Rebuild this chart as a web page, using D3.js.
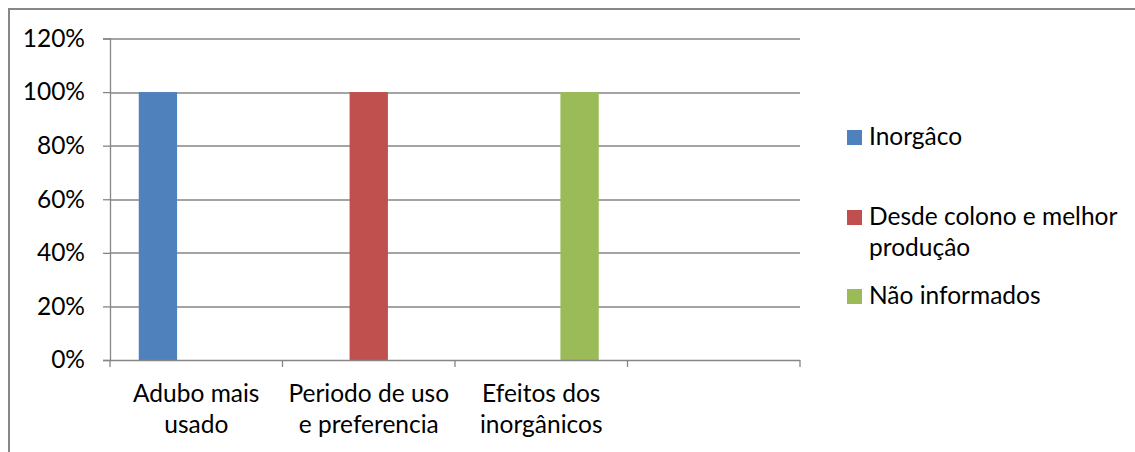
<!DOCTYPE html>
<html>
<head>
<meta charset="utf-8">
<style>
  body { margin: 0; background: #fff; }
  svg text { font-family: Lato, "Liberation Sans", sans-serif; fill: #000; }
</style>
</head>
<body>
<div id="chart"></div>
<script src="https://d3js.org/d3.v7.min.js"></script>
<script>
// data
var categories = ["Adubo mais\nusado", "Periodo de uso\ne preferencia", "Efeitos dos\ninorgânicos", ""];
var seriesNames = ["Inorgâco", "Desde colono e melhor\nproduçâo", "Não informados"];
var inorgaco = [1, null, null, null];
var desdeColono = [null, 1, null, null];
var naoInformados = [null, null, 1, null];
var yTicks = [0, 0.2, 0.4, 0.6, 0.8, 1.0, 1.2];
var colors = ["#4F81BD", "#C0504D", "#9BBB59"];

var seriesValues = [inorgaco, desdeColono, naoInformados];

var W = 1135, H = 452;
var margin = {top: 38.5, right: 335, bottom: 92, left: 110};
var width = W - margin.left - margin.right;   // 690
var height = H - margin.top - margin.bottom;  // ~321.5
var fsize = 24.5;
var gridColor = "#868686";

var svg = d3.select("#chart").append("svg")
    .attr("width", W)
    .attr("height", H);

// outer chart border (runs past the right and bottom edges)
svg.append("rect")
    .attr("x", 9).attr("y", 9)
    .attr("width", W + 20).attr("height", H + 20)
    .attr("fill", "none")
    .attr("stroke", "#878787")
    .attr("stroke-width", 2);

var g = svg.append("g")
    .attr("transform", "translate(" + margin.left + "," + margin.top + ")");

var x0 = d3.scaleBand()
    .domain(d3.range(categories.length))
    .range([0, width])
    .paddingInner(0).paddingOuter(0);

// excel-like gap width 150%: 3 bars + 1.5 bar widths of gap
var bw = x0.bandwidth() / 4.5;
var x1 = d3.scaleBand()
    .domain(d3.range(seriesNames.length))
    .range([bw * 0.75, bw * 3.75]);

var y = d3.scaleLinear()
    .domain([0, 1.2])
    .range([height, 0]);

// gridlines
g.append("g")
  .selectAll("line")
  .data(yTicks.slice(1))
  .enter().append("line")
    .attr("x1", 0).attr("x2", width)
    .attr("y1", function(d) { return Math.round(y(d)) + 0.5; })
    .attr("y2", function(d) { return Math.round(y(d)) + 0.5; })
    .attr("stroke", gridColor)
    .attr("stroke-width", 1.3);

// bars
var rows = [];
seriesValues.forEach(function(vals, s) {
  vals.forEach(function(v, c) {
    if (v != null) rows.push({s: s, c: c, v: v});
  });
});

g.append("g")
  .selectAll("rect")
  .data(rows)
  .enter().append("rect")
    .attr("x", function(d) { return x0(d.c) + x1(d.s); })
    .attr("y", function(d) { return y(d.v); })
    .attr("width", x1.bandwidth())
    .attr("height", function(d) { return y(0) - y(d.v); })
    .attr("fill", function(d) { return colors[d.s]; });

// y axis
var yAxis = g.append("g")
    .call(d3.axisLeft(y).tickValues(yTicks).tickFormat(d3.format(".0%")).tickSize(7).tickPadding(18));
yAxis.select(".domain").attr("stroke", gridColor).attr("stroke-width", 1.3);
yAxis.selectAll(".tick line").attr("stroke", gridColor).attr("stroke-width", 1.3);
yAxis.selectAll("text")
    .style("font-size", fsize + "px")
    .style("font-family", "Lato, sans-serif")
    .attr("fill", "#000");

// x axis
var xTickPos = d3.range(categories.length + 1).map(function(i) { return i * x0.bandwidth(); });
var xAxis = g.append("g").attr("transform", "translate(0," + height + ")");
xAxis.append("line")
    .attr("x1", 0).attr("x2", width)
    .attr("y1", 0.5).attr("y2", 0.5)
    .attr("stroke", gridColor).attr("stroke-width", 1.3);
xAxis.selectAll(".xt")
  .data(xTickPos)
  .enter().append("line")
    .attr("class", "xt")
    .attr("x1", function(d) { return d; }).attr("x2", function(d) { return d; })
    .attr("y1", 0).attr("y2", 7)
    .attr("stroke", gridColor).attr("stroke-width", 1.3);

var xl = xAxis.selectAll(".xl")
  .data(categories)
  .enter().append("text")
    .attr("class", "xl")
    .attr("text-anchor", "middle")
    .style("font-size", fsize + "px")
    .attr("transform", function(d, i) { return "translate(" + (x0(i) + x0.bandwidth() / 2) + ",0)"; });
xl.selectAll("tspan")
  .data(function(d) { return d ? d.split("\n") : []; })
  .enter().append("tspan")
    .attr("x", 0)
    .attr("y", function(d, i) { return 42 + i * 31; })
    .text(function(d) { return d; });

// legend
var legendY = [145, 225, 304];
var legend = svg.append("g")
  .selectAll("g")
  .data(seriesNames)
  .enter().append("g")
    .attr("transform", function(d, i) { return "translate(847," + legendY[i] + ")"; });

legend.append("rect")
    .attr("x", 0).attr("y", -15)
    .attr("width", 15).attr("height", 15)
    .attr("fill", function(d, i) { return colors[i]; });

legend.append("text")
    .style("font-size", fsize + "px")
  .selectAll("tspan")
  .data(function(d) { return d.split("\n"); })
  .enter().append("tspan")
    .attr("x", 22)
    .attr("y", function(d, i) { return i * 31; })
    .text(function(d) { return d; });
</script>
</body>
</html>
